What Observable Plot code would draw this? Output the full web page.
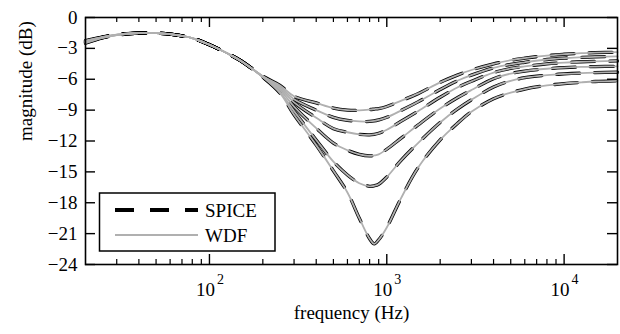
<!DOCTYPE html>
<html><head><meta charset="utf-8">
<script src="https://cdn.jsdelivr.net/npm/d3@7"></script>
<script src="https://cdn.jsdelivr.net/npm/@observablehq/plot@0.6"></script>
<style>body{margin:0;background:#fff} #chart{width:620px;height:334px}</style>
</head><body><div id="chart"></div>
<script>
const frequencies = [20, 25, 30, 40, 50, 60, 80, 100, 125, 150, 200, 250, 300, 400, 500, 600, 700, 800, 850, 900, 1000, 1200, 1500, 2000, 2500, 3000, 4000, 5000, 6000, 8000, 10000, 12500, 15000, 20000];
const mag1 = [-2.25, -1.88, -1.66, -1.5, -1.52, -1.62, -2.0, -2.65, -3.45, -4.2, -5.7, -6.6, -7.65, -8.3, -8.8, -9.0, -9.02, -8.95, -8.9, -8.85, -8.65, -8.1, -7.4, -6.3, -5.6, -5.1, -4.5, -4.15, -3.95, -3.7, -3.57, -3.47, -3.42, -3.37];
const mag2 = [-2.3, -1.9, -1.67, -1.5, -1.52, -1.62, -2.0, -2.65, -3.45, -4.2, -5.72, -6.75, -7.95, -9.0, -9.7, -10.0, -10.1, -10.1, -10.05, -9.95, -9.7, -9.05, -8.2, -7.0, -6.15, -5.6, -4.9, -4.55, -4.35, -4.08, -3.95, -3.87, -3.82, -3.78];
const mag3 = [-2.35, -1.92, -1.68, -1.51, -1.52, -1.62, -2.0, -2.65, -3.45, -4.2, -5.74, -6.9, -8.25, -9.75, -10.8, -11.15, -11.35, -11.4, -11.35, -11.25, -10.9, -10.1, -9.1, -7.75, -6.8, -6.2, -5.35, -4.95, -4.75, -4.5, -4.38, -4.3, -4.26, -4.22];
const mag4 = [-2.4, -1.94, -1.69, -1.51, -1.52, -1.62, -2.0, -2.65, -3.45, -4.2, -5.76, -7.05, -8.65, -10.75, -12.2, -12.9, -13.3, -13.45, -13.4, -13.3, -12.8, -11.75, -10.45, -8.85, -7.8, -7.05, -5.95, -5.45, -5.2, -4.98, -4.87, -4.8, -4.77, -4.74];
const mag5 = [-2.45, -1.96, -1.7, -1.52, -1.52, -1.62, -2.0, -2.65, -3.45, -4.2, -5.78, -7.25, -9.1, -11.9, -14.0, -15.3, -16.1, -16.4, -16.35, -16.2, -15.5, -13.9, -12.2, -10.2, -8.9, -8.0, -6.75, -6.15, -5.85, -5.6, -5.48, -5.4, -5.36, -5.32];
const mag6 = [-2.5, -1.98, -1.72, -1.52, -1.52, -1.62, -2.0, -2.65, -3.45, -4.2, -5.8, -7.35, -9.45, -12.4, -14.9, -17.0, -19.5, -21.5, -22.0, -21.6, -20.4, -17.6, -14.6, -11.9, -10.3, -9.15, -7.9, -7.3, -6.95, -6.6, -6.42, -6.3, -6.22, -6.15];

const yTicks = [-24, -21, -18, -15, -12, -9, -6, -3, 0];
const yTickLabels = ["−24", "−21", "−18", "−15", "−12", "−9", "−6", "−3", "0"];
const xMajorTicks = [100, 1000, 10000];
const xMajorBase = ["10", "10", "10"];
const xMajorExp = ["2", "3", "4"];
const xMinorTicks = [30, 40, 50, 60, 70, 80, 90, 200, 300, 400, 500, 600, 700, 800, 900, 2000, 3000, 4000, 5000, 6000, 7000, 8000, 9000];
const legendLabels = ["SPICE", "WDF"];
const xLabel = "frequency (Hz)";
const yLabel = "magnitude (dB)";

const series = [mag1, mag2, mag3, mag4, mag5, mag6];
const rows = series.flatMap((m, k) => m.map((v, i) => ({f: frequencies[i], db: v, curve: k})));

const W = 620, H = 334, mL = 85, mR = 3, mT = 17, mB = 70;
const pw = W - mL - mR, ph = H - mT - mB;
const font = "Liberation Serif";

const plot = Plot.plot({
  width: W, height: H,
  marginLeft: mL, marginRight: mR, marginTop: mT, marginBottom: mB,
  style: {fontFamily: font, background: "white"},
  x: {type: "log", domain: [20, 20000], axis: null},
  y: {domain: [-24, 0], axis: null},
  marks: [
    Plot.line(rows, {x: "f", y: "db", z: "curve", stroke: "black", strokeWidth: 3.3, strokeDasharray: "23,15", curve: "catmull-rom"}),
    Plot.line(rows, {x: "f", y: "db", z: "curve", stroke: "#b0b0b0", strokeWidth: 1.8, curve: "catmull-rom"}),
    Plot.tickX(xMinorTicks, {x: d => d, insetTop: ph - 5, stroke: "black", strokeWidth: 1.2}),
    Plot.tickX(xMinorTicks, {x: d => d, insetBottom: ph - 5, stroke: "black", strokeWidth: 1.2}),
    Plot.tickX(xMajorTicks, {x: d => d, insetTop: ph - 10, stroke: "black", strokeWidth: 1.4}),
    Plot.tickX(xMajorTicks, {x: d => d, insetBottom: ph - 10, stroke: "black", strokeWidth: 1.4}),
    Plot.tickY(yTicks, {y: d => d, insetRight: pw - 10, stroke: "black", strokeWidth: 1.4}),
    Plot.tickY(yTicks, {y: d => d, insetLeft: pw - 10, stroke: "black", strokeWidth: 1.4}),
    Plot.frame({stroke: "black", strokeWidth: 1.6}),
    Plot.text(yTicks, {y: d => d, text: (d, i) => yTickLabels[i], frameAnchor: "left", dx: -8, textAnchor: "end", fontSize: 19}),
    Plot.text(xMajorTicks, {x: d => d, text: (d, i) => xMajorBase[i], frameAnchor: "bottom", dy: 31, dx: -4, fontSize: 19}),
    Plot.text(xMajorTicks, {x: d => d, text: (d, i) => xMajorExp[i], frameAnchor: "bottom", dy: 19, dx: 11, fontSize: 14}),
    Plot.text([xLabel], {text: d => d, frameAnchor: "bottom", dy: 54, fontSize: 19}),
    Plot.text([yLabel], {text: d => d, frameAnchor: "left", dx: -60, rotate: -90, fontSize: 19})
  ]
});

const svg = d3.select(plot);
const lg = svg.append("g").attr("font-family", font).attr("font-size", 19).attr("text-anchor", "start");
lg.append("rect").attr("x", 99.5).attr("y", 193).attr("width", 175.5).attr("height", 58)
  .attr("fill", "white").attr("stroke", "black").attr("stroke-width", 1.5);
lg.append("line").attr("x1", 115).attr("x2", 198).attr("y1", 210).attr("y2", 210)
  .attr("stroke", "black").attr("stroke-width", 4).attr("stroke-dasharray", "19,16");
lg.append("line").attr("x1", 115).attr("x2", 198).attr("y1", 235).attr("y2", 235)
  .attr("stroke", "#b0b0b0").attr("stroke-width", 2);
lg.append("text").attr("x", 205).attr("y", 210).attr("dy", "0.35em").text(legendLabels[0]);
lg.append("text").attr("x", 205).attr("y", 235).attr("dy", "0.35em").text(legendLabels[1]);

document.getElementById("chart").appendChild(plot);
</script>
</body></html>
